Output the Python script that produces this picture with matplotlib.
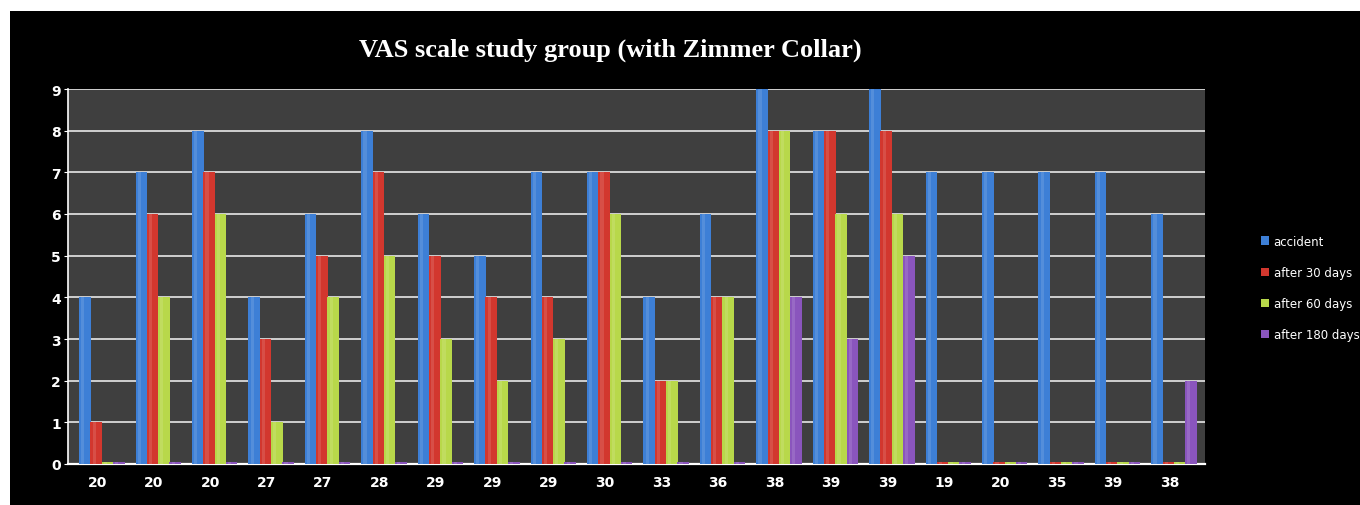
import numpy as np
import matplotlib
matplotlib.use("Agg")
import matplotlib.pyplot as plt
from matplotlib.patches import Rectangle

# ages shown under each group
ages = ["20", "20", "20", "27", "27", "28", "29", "29", "29", "30",
        "33", "36", "38", "39", "39", "19", "20", "35", "39", "38"]
accident = [4, 7, 8, 4, 6, 8, 6, 5, 7, 7, 4, 6, 9, 8, 9, 7, 7, 7, 7, 6]
after_30 = [1, 6, 7, 3, 5, 7, 5, 4, 4, 7, 2, 4, 8, 8, 8, 0, 0, 0, 0, 0]
after_60 = [0, 4, 6, 1, 4, 5, 3, 2, 3, 6, 2, 4, 8, 6, 6, 0, 0, 0, 0, 0]
after_180 = [0, 0, 0, 0, 0, 0, 0, 0, 0, 0, 0, 0, 4, 3, 5, 0, 0, 0, 0, 2]

series = [
    ("accident", accident, "#3d7fd6"),
    ("after 30 days", after_30, "#d2372e"),
    ("after 60 days", after_60, "#b8d84a"),
    ("after 180 days", after_180, "#8a55bd"),
]

fig = plt.figure(figsize=(13.6, 5.06), dpi=100, facecolor="white")
# black panel with thin white margin at top/left like the screenshot
fig.patches.append(Rectangle((10/1360, -0.01), 1, 1.01 - 12/506, transform=fig.transFigure,
                             facecolor="black", edgecolor="none", zorder=-10))

ax = fig.add_axes([68/1360, 1 - 465/506, (1205 - 68)/1360, (465 - 90)/506])
ax.set_facecolor("#3f3f3f")

x = np.arange(len(ages))
w = 0.2
for i, (name, vals, col) in enumerate(series):
    v = np.array(vals, dtype=float)
    shown = np.maximum(v, 0.04)  # zero values still show as a flat sliver
    ax.bar(x + (i - 1.5) * w, shown, width=w * 1.02, color=col, label=name,
           edgecolor="none", zorder=3)
    # light strip to fake the 3D shading
    ax.bar(x + (i - 1.5) * w - w * 0.18, shown, width=w * 0.28, color="white",
           alpha=0.12, edgecolor="none", zorder=4)

ax.set_xlim(-0.6, len(ages) - 0.45)
ax.set_ylim(0, 9)
ax.set_yticks(range(10))
ax.set_xticks(x - 0.08)
ax.set_xticklabels(ages)
ax.yaxis.grid(True, color="#cfcfcf", linewidth=1.4, zorder=1)
ax.set_axisbelow(True)
for s in ["top", "right"]:
    ax.spines[s].set_visible(False)
ax.spines["left"].set_color("white")
ax.spines["bottom"].set_color("white")
ax.spines["left"].set_linewidth(1.2)
ax.spines["bottom"].set_linewidth(1.6)
ax.tick_params(axis="y", colors="white", labelsize=10, length=3, pad=2)
ax.tick_params(axis="x", colors="white", labelsize=10, length=0, pad=8)
for lab in ax.get_xticklabels() + ax.get_yticklabels():
    lab.set_fontweight("bold")

fig.text(610/1360, 1 - 50/506, "VAS scale study group (with Zimmer Collar)",
         ha="center", va="center", color="white", fontsize=19,
         fontweight="bold", family="Liberation Serif")

leg = ax.legend(loc="center left", bbox_to_anchor=(1256/1360, 1 - 289/506),
                bbox_transform=fig.transFigure, frameon=False, fontsize=8.5,
                handlelength=0.7, handleheight=0.7, handletextpad=0.4,
                labelspacing=1.55, borderaxespad=0)
for t in leg.get_texts():
    t.set_color("white")

fig.savefig("out.png", dpi=100, facecolor=fig.get_facecolor())
